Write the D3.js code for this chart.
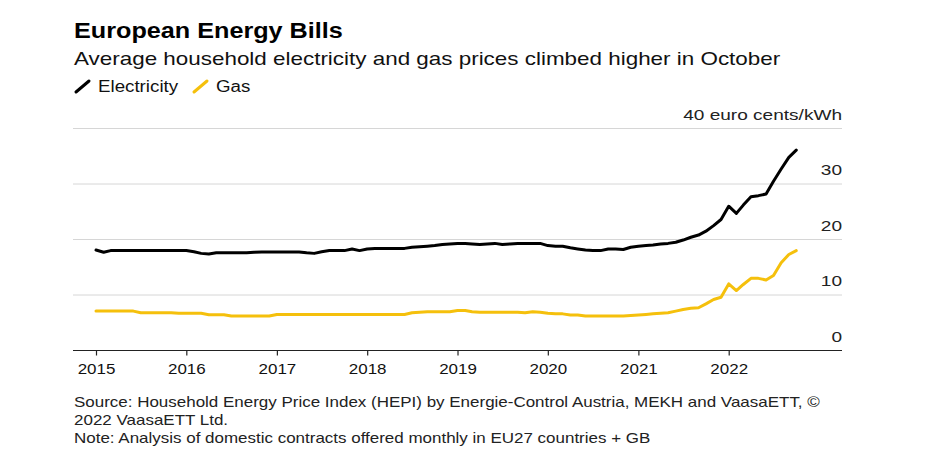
<!DOCTYPE html>
<html>
<head>
<meta charset="utf-8">
<script src="https://cdn.jsdelivr.net/npm/d3@7"></script>
<style>
  body { margin: 0; background: #fff; }
  svg { display: block; font-family: "Liberation Sans", Arial, sans-serif; }
</style>
</head>
<body>
<svg id="chart" width="930" height="465"></svg>
<script>
// ---- Data (monthly, Jan 2015 – Oct 2022), euro cents/kWh ----
const startYear = 2015;
const electricity = [
  18.1, 17.7, 18.0, 18.0, 18.0, 18.0, 18.0, 18.0, 18.0, 18.0, 18.0, 18.0,
  18.0, 17.8, 17.5, 17.4, 17.6, 17.6, 17.6, 17.6, 17.6, 17.7, 17.75, 17.75,
  17.75, 17.75, 17.75, 17.75, 17.6, 17.5, 17.8, 18.0, 18.0, 18.0, 18.3, 18.0,
  18.3, 18.4, 18.4, 18.4, 18.4, 18.4, 18.6, 18.7, 18.8, 18.9, 19.1, 19.2,
  19.3, 19.3, 19.2, 19.1, 19.2, 19.3, 19.1, 19.2, 19.3, 19.3, 19.3, 19.3,
  18.9, 18.8, 18.8, 18.5, 18.3, 18.1, 18.0, 18.0, 18.3, 18.3, 18.2, 18.6,
  18.8, 18.9, 19.0, 19.2, 19.3, 19.5, 19.9, 20.4, 20.8, 21.5, 22.5, 23.6,
  26.0, 24.7, 26.2, 27.7, 27.9, 28.2, 30.5, 32.7, 34.8, 36.1
];
const gas = [
  7.1, 7.1, 7.1, 7.1, 7.1, 7.1, 6.8, 6.8, 6.8, 6.8, 6.8, 6.7,
  6.7, 6.7, 6.7, 6.45, 6.45, 6.45, 6.2, 6.2, 6.2, 6.2, 6.2, 6.2,
  6.5, 6.5, 6.5, 6.5, 6.5, 6.5, 6.5, 6.5, 6.5, 6.5, 6.5, 6.5,
  6.5, 6.5, 6.5, 6.5, 6.5, 6.5, 6.8, 6.9, 7.0, 7.0, 7.0, 7.0,
  7.2, 7.2, 7.0, 6.9, 6.9, 6.9, 6.9, 6.9, 6.9, 6.8, 7.0, 6.9,
  6.7, 6.6, 6.6, 6.4, 6.4, 6.2, 6.2, 6.2, 6.2, 6.2, 6.2, 6.3,
  6.4, 6.5, 6.6, 6.7, 6.8, 7.1, 7.4, 7.6, 7.7, 8.4, 9.2, 9.6,
  12.0, 10.8, 11.9, 13.0, 13.0, 12.7, 13.5, 15.8, 17.3, 18.0
];
const yearTicks = [2015, 2016, 2017, 2018, 2019, 2020, 2021, 2022];
const yTicks = [0, 10, 20, 30, 40];
const unitLabel = "euro cents/kWh";
const seriesNames = ["Electricity", "Gas"];
const titleText = "European Energy Bills";
const subtitleText = "Average household electricity and gas prices climbed higher in October";
const sourceLines = [
  "Source: Household Energy Price Index (HEPI) by Energie-Control Austria, MEKH and VaasaETT, \u00A9",
  "2022 VaasaETT Ltd.",
  "Note: Analysis of domestic contracts offered monthly in EU27 countries + GB"
];

// ---- Layout ----
const colors = { Electricity: "#000000", Gas: "#f5c00c" };
const svg = d3.select("#chart");
const plotLeft = 73, plotRight = 842;

// widen glyphs horizontally (reference typeface is wider than Liberation Sans)
function stretch(sel, k) {
  sel.each(function () {
    const w = this.getComputedTextLength();
    d3.select(this).attr("textLength", (w * k).toFixed(1)).attr("lengthAdjust", "spacingAndGlyphs");
  });
}

const x = d3.scaleTime()
  .domain([new Date(2015, 0, 1), new Date(2022, 0, 1)])
  .range([96, 728.7]);
const y = d3.scaleLinear().domain([0, 40]).range([350.5, 128.5]);

const toDate = i => new Date(startYear, i, 1);

// Title / subtitle
svg.append("text").attr("x", 74).attr("y", 38)
  .attr("font-size", 22).attr("font-weight", "bold").attr("fill", "#000")
  .text(titleText).call(stretch, 1.145);
svg.append("text").attr("x", 74).attr("y", 65)
  .attr("font-size", 19).attr("fill", "#111")
  .text(subtitleText).call(stretch, 1.18);

// Legend
const legend = svg.append("g");
const legendItems = [
  { name: seriesNames[0], x: 75 },
  { name: seriesNames[1], x: 193 }
];
legendItems.forEach(d => {
  legend.append("line")
    .attr("x1", d.x + 1).attr("y1", 92).attr("x2", d.x + 14).attr("y2", 81)
    .attr("stroke", colors[d.name]).attr("stroke-width", 3).attr("stroke-linecap", "round");
  legend.append("text").attr("x", d.x + 23).attr("y", 92)
    .attr("font-size", 16).attr("fill", "#111").text(d.name).call(stretch, 1.17);
});

// Gridlines
svg.append("g").selectAll("line")
  .data(yTicks.filter(d => d > 0))
  .join("line")
  .attr("x1", plotLeft).attr("x2", plotRight)
  .attr("y1", d => y(d)).attr("y2", d => y(d))
  .attr("stroke", "#d6d6d6").attr("stroke-width", 1);

// Y labels (right aligned, above gridlines)
svg.append("g").selectAll("text")
  .data(yTicks)
  .join("text")
  .attr("x", plotRight).attr("y", d => y(d) - 9)
  .attr("text-anchor", "end")
  .attr("font-size", 15).attr("fill", "#222")
  .text(d => d === 40 ? `${d} ${unitLabel}` : d)
  .call(stretch, 1.27);

// X axis
const xAxis = d3.axisBottom(x)
  .tickValues(yearTicks.map(yr => new Date(yr, 0, 1)))
  .tickFormat(d3.timeFormat("%Y"))
  .tickSize(5)
  .tickPadding(8);
const gx = svg.append("g").attr("transform", `translate(0,${y(0)})`).call(xAxis);
gx.select(".domain").remove();
gx.append("line").attr("x1", plotLeft).attr("x2", plotRight)
  .attr("y1", 0).attr("y2", 0).attr("stroke", "#222").attr("stroke-width", 1.2);
gx.selectAll(".tick line").attr("stroke", "#222").attr("stroke-width", 1.2);
gx.selectAll(".tick text")
  .attr("font-family", "Liberation Sans, Arial, sans-serif")
  .attr("font-size", 15).attr("fill", "#111")
  .call(stretch, 1.13);

// Lines
const line = d3.line()
  .x((d, i) => x(toDate(i)))
  .y(d => y(d))
  .curve(d3.curveLinear);

[["Gas", gas], ["Electricity", electricity]].forEach(([name, vals]) => {
  svg.append("path")
    .datum(vals)
    .attr("fill", "none")
    .attr("stroke", colors[name])
    .attr("stroke-width", 3)
    .attr("stroke-linejoin", "round")
    .attr("stroke-linecap", "round")
    .attr("d", line);
});

// Source / notes
svg.append("g").selectAll("text")
  .data(sourceLines)
  .join("text")
  .attr("x", 74).attr("y", (d, i) => 407 + i * 17.8)
  .attr("font-size", 14.5).attr("fill", "#222")
  .text(d => d)
  .call(stretch, 1.17);
</script>
</body>
</html>
